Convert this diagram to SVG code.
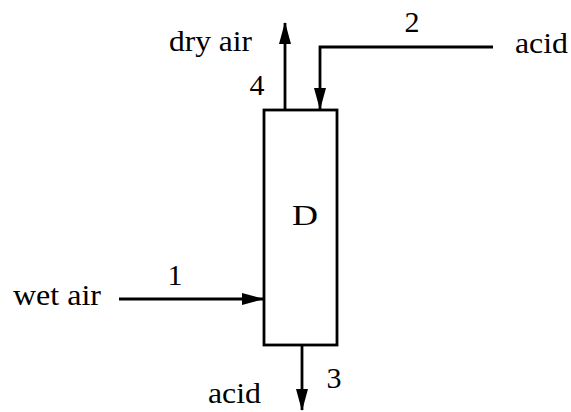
<svg xmlns="http://www.w3.org/2000/svg" width="571" height="412" viewBox="0 0 571 412">
<style>
.t{font-family:'Liberation Serif','Times New Roman',serif;font-size:30px;fill:#000}
.ln{stroke:#000;stroke-width:2.8;fill:none}
</style>
<defs>
<marker id="ah" markerWidth="22" markerHeight="12" refX="21" refY="6" orient="auto" markerUnits="userSpaceOnUse">
<path d="M0,0 L22,6 L0,12 Z" fill="#000"/>
</marker>
</defs>
<rect width="571" height="412" fill="#fff"/>
<g id="D">
<rect x="264" y="110" width="73" height="235" class="ln"/>
<text class="t" x="292" y="225" textLength="26" lengthAdjust="spacingAndGlyphs">D</text>
</g>
<g id="connectors">
<g id="s1"><line x1="119" y1="299" x2="263" y2="299" class="ln" marker-end="url(#ah)"/><text class="t" x="175" y="285" text-anchor="middle">1</text></g>
<g id="s2"><polyline points="493,47 320,47 320,109" class="ln" marker-end="url(#ah)"/><text class="t" x="412" y="32" text-anchor="middle">2</text></g>
<g id="s3"><line x1="302" y1="345" x2="302" y2="410" class="ln" marker-end="url(#ah)"/><text class="t" x="334" y="388" text-anchor="middle">3</text></g>
<g id="s4"><line x1="285" y1="110" x2="285" y2="23" class="ln" marker-end="url(#ah)"/><text class="t" x="257" y="95" text-anchor="middle">4</text></g>
</g>
<g id="labels">
<text class="t" x="13" y="305" textLength="88" lengthAdjust="spacingAndGlyphs">wet air</text>
<text class="t" x="169" y="51" textLength="83" lengthAdjust="spacingAndGlyphs">dry air</text>
<text class="t" x="515" y="53" textLength="53" lengthAdjust="spacingAndGlyphs">acid</text>
<text class="t" x="208" y="403" textLength="53" lengthAdjust="spacingAndGlyphs">acid</text>
</g>
</svg>
